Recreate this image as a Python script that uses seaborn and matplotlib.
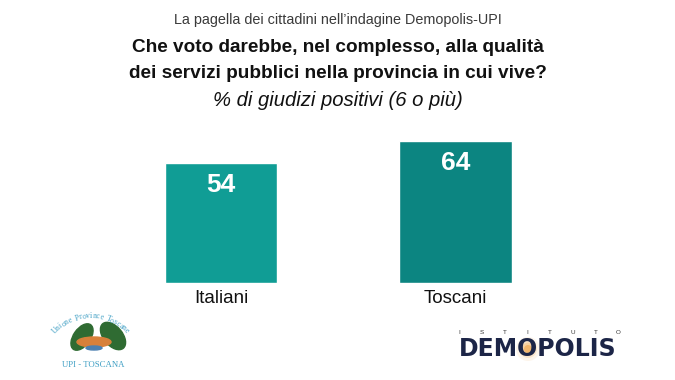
import matplotlib
matplotlib.use("Agg")
import matplotlib.pyplot as plt
import seaborn as sns
import pandas as pd
import numpy as np
from matplotlib.patches import Ellipse, Circle

categories = ["Italiani", "Toscani"]
values = [54, 64]
colors = ["#109d95", "#0c8581"]

subtitle = "La pagella dei cittadini nell\u2019indagine Demopolis-UPI"
title_lines = ["Che voto darebbe, nel complesso, alla qualità",
               "dei servizi pubblici nella provincia in cui vive?"]
measure = "% di giudizi positivi (6 o più)"
logo_arc = "Unione Province Toscane"
logo_name = "UPI - TOSCANA"
brand_top = "ISTITUTO"
brand = "DEMOPOLIS"

sns.set_theme(style="white")
plt.rcParams['font.family'] = ['Liberation Sans', 'DejaVu Sans']

df = pd.DataFrame({"cat": categories, "val": values})

fig = plt.figure(figsize=(6.75, 3.8), dpi=100)
fig.patch.set_facecolor("white")
ax = fig.add_axes([0, 97/380, 1, 222/380])
ax.set_facecolor("none")
sns.barplot(data=df, x="cat", y="val", hue="cat", palette=colors,
            width=0.48, legend=False, ax=ax, saturation=1)
ax.set_ylim(0, 100)
ax.set_xlim(-0.9424, 1.936)
ax.set_xlabel("")
ax.set_ylabel("")
ax.set_yticks([])
for s in ax.spines.values():
    s.set_visible(False)
ax.tick_params(axis="x", length=0, pad=5)
for lab in ax.get_xticklabels():
    lab.set_fontsize(13.5)
    lab.set_color("#111111")

for i, v in enumerate(values):
    ax.annotate(f"{v}", xy=(i, v), xytext=(0, -7), textcoords="offset points",
                ha="center", va="top", color="white", fontsize=19,
                fontweight="bold")

fig.text(0.5, 1 - 20/380, subtitle, ha="center", va="center",
         fontsize=10.4, color="#3a3a3a")
fig.text(0.5, 1 - 48/380, title_lines[0], ha="center", va="center",
         fontsize=13.7, fontweight="bold", color="#111111")
fig.text(0.5, 1 - 73/380, title_lines[1], ha="center", va="center",
         fontsize=13.7, fontweight="bold", color="#111111")
fig.text(0.5, 1 - 101/380, measure, ha="center", va="center",
         fontsize=14.6, style="italic", color="#111111")

# decorative logos in a pixel-coordinate overlay
ov = fig.add_axes([0, 0, 1, 1], zorder=3)
ov.set_xlim(0, 675)
ov.set_ylim(380, 0)
ov.axis("off")
ov.patch.set_visible(False)

# UPI Toscana logo
cx, cy, r = 91, 366, 50
n = len(logo_arc)
angs = np.linspace(135, 45, n)
for ch, a in zip(logo_arc, angs):
    t = np.deg2rad(a)
    ov.text(cx + r*np.cos(t), cy - r*np.sin(t), ch, ha="center", va="center",
            rotation=a - 90, fontsize=5.6, color="#3f9fc4",
            family=["Liberation Serif", "DejaVu Serif"])
ov.add_patch(Ellipse((82, 337), 17, 30, angle=35, color="#2f6b32"))
ov.add_patch(Ellipse((113, 336), 19, 32, angle=-40, color="#2f6b32"))
ov.add_patch(Ellipse((94, 342), 34, 10, color="#d7803a"))
ov.add_patch(Ellipse((94, 348), 16, 4, color="#4b7fb0"))
ov.text(93, 365, logo_name, ha="center", va="center", fontsize=6.3,
        color="#3f9fc4", family=["Liberation Serif", "DejaVu Serif"])

# Demopolis logo
for rad, al in [(12, 0.10), (9, 0.18), (6.5, 0.3), (4, 0.55)]:
    ov.add_patch(Circle((528, 349), rad, color="#f0a040", alpha=al, lw=0))
xs = np.linspace(459, 618, len(brand_top))
for ch, x in zip(brand_top, xs):
    ov.text(x, 333, ch, ha="center", va="center", fontsize=4.5, color="#333333")
ov.text(538, 349, brand, ha="center", va="center", fontsize=17,
        fontweight="bold", color="#1c2547", family=["DejaVu Sans"])

fig.savefig("out.png", dpi=100, facecolor="white")
